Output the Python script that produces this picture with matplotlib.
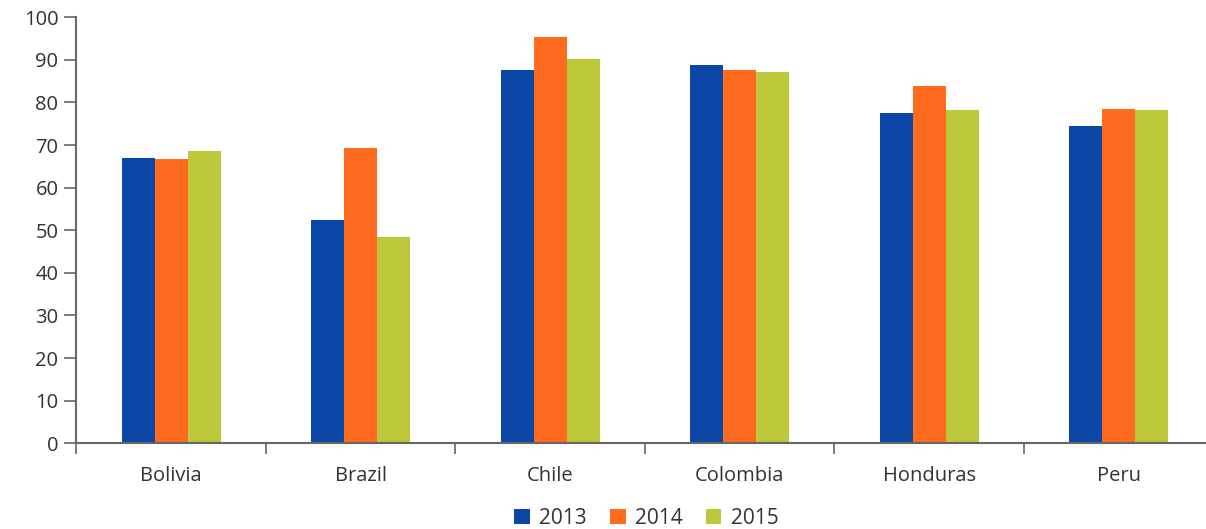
import matplotlib
matplotlib.use('Agg')
import matplotlib.pyplot as plt
import numpy as np

countries = ['Bolivia', 'Brazil', 'Chile', 'Colombia', 'Honduras', 'Peru']
years = ['2013', '2014', '2015']
values_2013 = [66.9, 52.3, 87.6, 88.7, 77.6, 74.5]
values_2014 = [66.7, 69.4, 95.3, 87.5, 83.9, 78.5]
values_2015 = [68.6, 48.3, 90.1, 87.2, 78.2, 78.3]
colors = ['#0a47a6', '#ff6b1e', '#bcc83a']

plt.rcParams['font.family'] = ['Open Sans', 'DejaVu Sans']

fig = plt.figure(figsize=(12.06, 5.29), dpi=100)
ax = fig.add_axes([0.0634, 0.162, 0.9428, 0.8055])

x = np.arange(len(countries))
width = 0.174
series = [values_2013, values_2014, values_2015]
for i, (vals, year, col) in enumerate(zip(series, years, colors)):
    ax.bar(x + (i - 1) * width, vals, width, color=col, label=year, linewidth=0)

ax.set_xlim(-0.5, len(countries) - 0.5)
ax.set_ylim(0, 100)
ax.set_yticks(range(0, 101, 10))

ax.set_xticks(x)
ax.set_xticklabels(countries)
ax.set_xticks(np.arange(-0.5, len(countries)), minor=True)
ax.tick_params(axis='x', which='major', length=0, pad=16, labelsize=14.5, labelcolor='#333333')
ax.tick_params(axis='x', which='minor', length=8, width=1.2, color='#666666', direction='out')
ax.tick_params(axis='y', length=9, width=1.2, color='#666666', pad=4, labelsize=14.5, labelcolor='#333333')

for side in ['top', 'right']:
    ax.spines[side].set_visible(False)
for side in ['left', 'bottom']:
    ax.spines[side].set_color('#666666')
    ax.spines[side].set_linewidth(1.5)

fig.legend(loc='lower center', bbox_to_anchor=(0.536, -0.035), ncol=3, frameon=False,
           fontsize=15, handlelength=0.75, handleheight=0.75, handletextpad=0.45,
           columnspacing=1.1, labelcolor='#333333')

fig.savefig('out.png', dpi=100)
